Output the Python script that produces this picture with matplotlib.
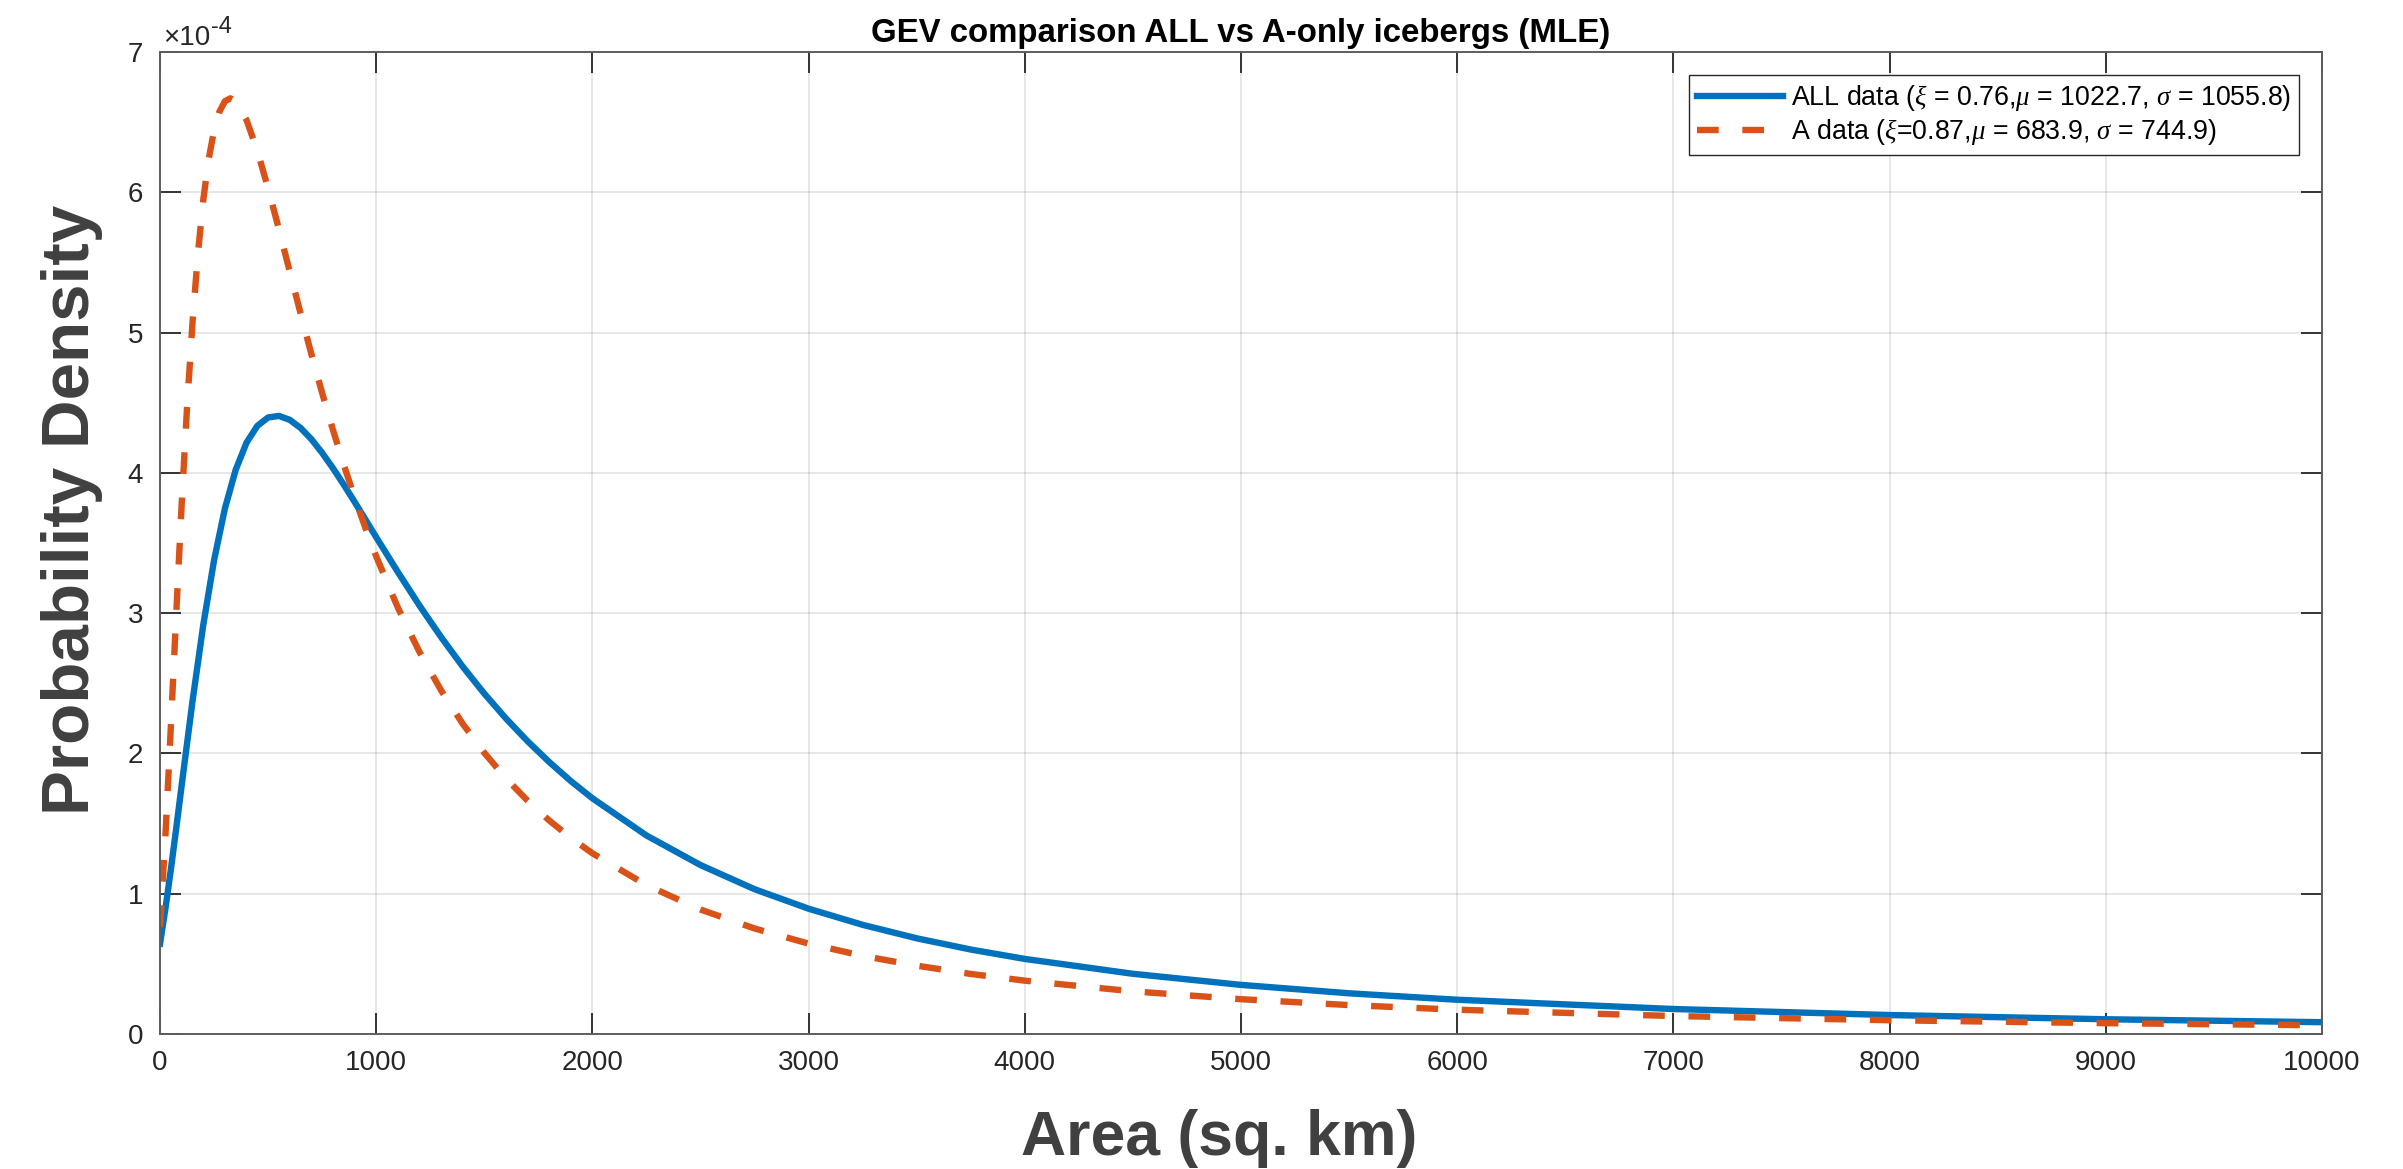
import matplotlib
matplotlib.use("Agg")
import matplotlib.pyplot as plt

plt.rcParams["font.family"] = ["Liberation Sans", "DejaVu Sans"]
plt.rcParams["mathtext.fontset"] = "custom"
plt.rcParams["mathtext.rm"] = "Liberation Sans"
plt.rcParams["mathtext.it"] = "Liberation Serif:italic"

# Area (sq. km) and probability density (units of 1e-4)
all_x = [0, 25, 50, 75, 100, 150, 200, 250, 300, 350, 400, 450, 500, 550, 600,
         650, 700, 750, 800, 850, 900, 950, 1000, 1100, 1200, 1300, 1400, 1500,
         1600, 1700, 1800, 1900, 2000, 2250, 2500, 2750, 3000, 3250, 3500,
         3750, 4000, 4500, 5000, 5500, 6000, 7000, 8000, 9000, 10000]
all_y = [0.644, 0.894, 1.172, 1.468, 1.772, 2.371, 2.916, 3.378, 3.746, 4.022,
         4.215, 4.335, 4.395, 4.406, 4.378, 4.320, 4.240, 4.142, 4.033, 3.915,
         3.793, 3.667, 3.541, 3.293, 3.054, 2.829, 2.619, 2.426, 2.249, 2.087,
         1.939, 1.803, 1.680, 1.415, 1.204, 1.032, 0.893, 0.778, 0.682, 0.602,
         0.535, 0.429, 0.350, 0.290, 0.244, 0.178, 0.135, 0.105, 0.084]

a_x = [0, 25, 50, 75, 100, 125, 150, 175, 200, 225, 250, 275, 300, 325, 350,
       400, 450, 500, 550, 600, 650, 700, 750, 800, 850, 900, 950, 1000, 1100,
       1200, 1300, 1400, 1500, 1600, 1700, 1800, 1900, 2000, 2250, 2500, 2750,
       3000, 3250, 3500, 3750, 4000, 4500, 5000, 5500, 6000, 7000, 8000, 9000,
       10000]
a_y = [0.763, 1.417, 2.191, 2.999, 3.774, 4.471, 5.068, 5.559, 5.946, 6.236,
       6.443, 6.576, 6.649, 6.670, 6.649, 6.515, 6.296, 6.028, 5.736, 5.435,
       5.137, 4.847, 4.568, 4.305, 4.057, 3.824, 3.607, 3.404, 3.039, 2.723,
       2.449, 2.211, 2.004, 1.822, 1.663, 1.522, 1.398, 1.288, 1.061, 0.887,
       0.752, 0.644, 0.557, 0.487, 0.428, 0.380, 0.304, 0.248, 0.206, 0.173,
       0.128, 0.098, 0.077, 0.062]

labels = [r"ALL data ($\xi$ = 0.76,$\mu$ = 1022.7, $\sigma$ = 1055.8)",
          r"A data ($\xi$=0.87,$\mu$ = 683.9, $\sigma$ = 744.9)"]
x_ticks = list(range(0, 10001, 1000))
y_ticks = [0, 1, 2, 3, 4, 5, 6, 7]

fig = plt.figure(figsize=(24.03, 11.69), dpi=100)
ax = fig.add_axes([0.0666, 0.1155, 0.8997, 0.8400])

ax.plot(all_x, all_y, color="#0072BD", lw=4.6, label=labels[0])
ax.plot(a_x, a_y, color="#D95319", lw=4.6, ls=(0, (3.4, 3.7)),
        dash_capstyle="butt", label=labels[1])

ax.set_xlim(0, 10000)
ax.set_ylim(0, 7)
ax.set_xticks(x_ticks)
ax.set_yticks(y_ticks)
ax.set_yticklabels([str(t) for t in y_ticks])

ax.grid(True, color="#262626", alpha=0.13, lw=1.2)
ax.tick_params(direction="in", length=15, width=1.3, colors="#262626",
               labelsize=20, top=True, right=True)
ax.tick_params(axis="x", pad=11.5)
ax.tick_params(axis="y", pad=12)
for sp in ax.spines.values():
    sp.set_color("#5e5e5e")
    sp.set_linewidth(1.4)

# exponent label above the y axis, MATLAB style
ax.annotate("×10", xy=(0, 1), xycoords="axes fraction",
            xytext=(2, 5), textcoords="offset points", ha="left", va="baseline",
            fontsize=20, color="#262626")
ax.annotate("-4", xy=(0, 1), xycoords="axes fraction",
            xytext=(37, 14), textcoords="offset points", ha="left", va="baseline",
            fontsize=17, color="#262626")

ax.set_title("GEV comparison ALL vs A-only icebergs (MLE)", fontsize=23.8,
             fontweight="bold", pad=7)

ax.set_xlabel("Area (sq. km)", fontsize=45, fontweight="bold", color="#404040",
              va="baseline")
ax.xaxis.set_label_coords(0.490, -0.1232)
ax.set_ylabel("Probability Density", fontsize=48.5, fontweight="bold",
              color="#404040", va="center", ha="center")
ax.yaxis.set_label_coords(-0.0405, 0.5336)

leg = ax.legend(loc="upper right", bbox_to_anchor=(0.9894, 0.9766),
                borderaxespad=0, fontsize=19.3, fancybox=False, framealpha=1,
                edgecolor="#262626", handlelength=3.2, handletextpad=0.3,
                labelspacing=0.15, borderpad=0.3)
leg.get_frame().set_linewidth(1.0)

fig.savefig("out.png", dpi=100)
